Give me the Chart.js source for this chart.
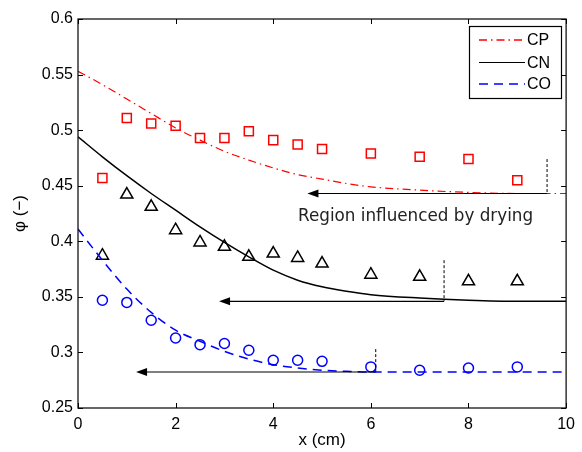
<!DOCTYPE html>
<html>
<head>
<meta charset="utf-8">
<script src="https://cdn.jsdelivr.net/npm/chart.js@4"></script>
<style>
  html, body { margin: 0; padding: 0; background: #fff; }
  #wrap { width: 582px; height: 452px; }
</style>
</head>
<body>
<div id="wrap"><canvas id="chart" width="582" height="452"></canvas></div>
<script>
// model curves (x in cm)
const lineX = [0, 0.5, 1, 1.5, 2, 2.5, 3, 3.5, 4, 4.5, 5, 5.5, 6, 7, 8, 9, 10];
const cpLine = [0.553, 0.541, 0.528, 0.515, 0.502, 0.491, 0.481, 0.473, 0.466, 0.460, 0.456, 0.452, 0.449, 0.446, 0.444, 0.443, 0.443];
const cnLine = [0.494, 0.476, 0.459, 0.443, 0.428, 0.413, 0.399, 0.386, 0.374, 0.365, 0.359, 0.355, 0.352, 0.349, 0.347, 0.346, 0.346];
const coLine = [0.411, 0.383, 0.357, 0.336, 0.320, 0.310, 0.301, 0.294, 0.289, 0.286, 0.284, 0.283, 0.2824, 0.2824, 0.2824, 0.2824, 0.2824];

// measured points
const expX = [0.5, 1, 1.5, 2, 2.5, 3, 3.5, 4, 4.5, 5, 6, 7, 8, 9];
const cpPts = [0.457, 0.511, 0.506, 0.504, 0.493, 0.493, 0.499, 0.491, 0.487, 0.483, 0.479, 0.476, 0.474, 0.455];
const cnPts = [0.387, 0.442, 0.431, 0.410, 0.399, 0.395, 0.386, 0.389, 0.385, 0.380, 0.370, 0.368, 0.364, 0.364];
const coPts = [0.347, 0.345, 0.329, 0.313, 0.307, 0.308, 0.302, 0.293, 0.293, 0.292, 0.287, 0.284, 0.286, 0.287];

// drying-region arrows
const arrowY = [0.443, 0.346, 0.2824];
const arrowFrom = [9.61, 7.5, 6.1];
const arrowTo = [4.7, 2.89, 1.19];
const markTop = [0.474, 0.383, 0.303];

const seriesNames = ['CP', 'CN', 'CO'];
const seriesColors = ['#ff0000', '#000000', '#0000ff'];
const seriesDash = [[8, 4, 1.5, 4], [], [9, 6]];

function pts(xs, ys) {
  return xs.map(function (x, i) { return { x: x, y: ys[i] }; });
}

const frame = {
  id: 'frame',
  afterDatasetsDraw: function (chart) {
    const ctx = chart.ctx;
    const a = chart.chartArea;
    const xs = chart.scales.x, ys = chart.scales.y;
    ctx.save();

    // arrows + markers
    ctx.strokeStyle = '#000';
    ctx.fillStyle = '#000';
    for (let i = 0; i < arrowY.length; i++) {
      const py = ys.getPixelForValue(arrowY[i]);
      const x1 = xs.getPixelForValue(arrowFrom[i]);
      const x2 = xs.getPixelForValue(arrowTo[i]);
      ctx.lineWidth = 1.2;
      ctx.setLineDash([]);
      ctx.beginPath();
      ctx.moveTo(x1, py);
      ctx.lineTo(x2 + 8, py);
      ctx.stroke();
      ctx.beginPath();
      ctx.moveTo(x2, py);
      ctx.lineTo(x2 + 11, py - 4);
      ctx.lineTo(x2 + 11, py + 4);
      ctx.closePath();
      ctx.fill();
      ctx.lineWidth = 1;
      ctx.setLineDash([3, 2]);
      ctx.beginPath();
      ctx.moveTo(x1, ys.getPixelForValue(markTop[i]));
      ctx.lineTo(x1, py);
      ctx.stroke();
    }
    ctx.setLineDash([]);
    ctx.font = '16.8px "DejaVu Sans"';
    ctx.fillStyle = '#222';
    ctx.textBaseline = 'alphabetic';
    ctx.textAlign = 'left';
    ctx.fillText('Region influenced by drying', 298, 220.5);

    // box + inward ticks
    ctx.strokeStyle = '#000';
    ctx.lineWidth = 1.2;
    ctx.strokeRect(a.left, a.top, a.right - a.left, a.bottom - a.top);
    ctx.lineWidth = 1;
    ctx.beginPath();
    xs.ticks.forEach(function (t) {
      const px = Math.round(xs.getPixelForValue(t.value)) + 0.5;
      ctx.moveTo(px, a.bottom); ctx.lineTo(px, a.bottom - 5);
      ctx.moveTo(px, a.top); ctx.lineTo(px, a.top + 5);
    });
    ys.ticks.forEach(function (t) {
      const py = Math.round(ys.getPixelForValue(t.value)) + 0.5;
      ctx.moveTo(a.left, py); ctx.lineTo(a.left + 5, py);
      ctx.moveTo(a.right, py); ctx.lineTo(a.right - 5, py);
    });
    ctx.stroke();

    // legend
    const lx = 469.5, ly = 26.5, lw = 92, lh = 72;
    ctx.fillStyle = '#fff';
    ctx.fillRect(lx, ly, lw, lh);
    ctx.lineWidth = 1.2;
    ctx.strokeRect(lx, ly, lw, lh);
    ctx.font = '16px "Liberation Sans", Arial';
    ctx.textBaseline = 'middle';
    const rowY = [40, 62.5, 84];
    for (let i = 0; i < seriesNames.length; i++) {
      ctx.strokeStyle = seriesColors[i];
      ctx.lineWidth = i === 1 ? 1.2 : 1.6;
      ctx.setLineDash(seriesDash[i]);
      ctx.beginPath();
      ctx.moveTo(479, rowY[i]);
      ctx.lineTo(525, rowY[i]);
      ctx.stroke();
      ctx.setLineDash([]);
      ctx.fillStyle = '#000';
      ctx.fillText(seriesNames[i], 527, rowY[i] + 1);
    }
    ctx.restore();
  }
};

const datasets = [
  { data: pts(lineX, cpLine), showLine: true, borderColor: seriesColors[0], borderWidth: 1.2, borderDash: seriesDash[0], pointRadius: 0, cubicInterpolationMode: 'monotone' },
  { data: pts(lineX, cnLine), showLine: true, borderColor: seriesColors[1], borderWidth: 1.5, pointRadius: 0, cubicInterpolationMode: 'monotone' },
  { data: pts(lineX, coLine), showLine: true, borderColor: seriesColors[2], borderWidth: 1.5, borderDash: seriesDash[2], pointRadius: 0, cubicInterpolationMode: 'monotone' },
  { data: pts(expX, cpPts), showLine: false, pointStyle: 'rect', pointRadius: 6.4, pointBorderColor: '#ff0000', pointBackgroundColor: 'rgba(0,0,0,0)', pointBorderWidth: 1.5 },
  { data: pts(expX, cnPts), showLine: false, pointStyle: 'triangle', pointRadius: 7, pointBorderColor: '#000', pointBackgroundColor: 'rgba(0,0,0,0)', pointBorderWidth: 1.5 },
  { data: pts(expX, coPts), showLine: false, pointStyle: 'circle', pointRadius: 5, pointBorderColor: '#0000ff', pointBackgroundColor: 'rgba(0,0,0,0)', pointBorderWidth: 1.5 }
];

const tickFont = { family: '"Liberation Sans", Arial', size: 16 };
const titleFont = { family: '"Liberation Sans", Arial', size: 17 };

new Chart(document.getElementById('chart'), {
  type: 'scatter',
  data: { datasets: datasets },
  options: {
    responsive: false,
    animation: false,
    layout: { padding: { top: 19, right: 12, left: 0, bottom: 0 } },
    plugins: { legend: { display: false }, tooltip: { enabled: false } },
    scales: {
      x: {
        type: 'linear', min: 0, max: 10,
        afterFit: function (s) { s.height = 44; },
        grid: { display: false, drawTicks: false },
        border: { display: false },
        ticks: { stepSize: 2, padding: 7, color: '#000', font: tickFont },
        title: { display: true, text: 'x (cm)', color: '#000', font: titleFont, padding: { bottom: 1, top: 0 } }
      },
      y: {
        type: 'linear', min: 0.25, max: 0.6,
        afterFit: function (s) { s.width = 78; },
        grid: { display: false, drawTicks: false },
        border: { display: false },
        ticks: {
          stepSize: 0.05, padding: 5, color: '#000', font: tickFont,
          callback: function (v) { return String(parseFloat(v.toFixed(2))); }
        },
        title: { display: true, text: 'φ (−)', color: '#000', font: titleFont, padding: { top: 10, bottom: 0 } }
      }
    }
  },
  plugins: [frame]
});
</script>
</body>
</html>
